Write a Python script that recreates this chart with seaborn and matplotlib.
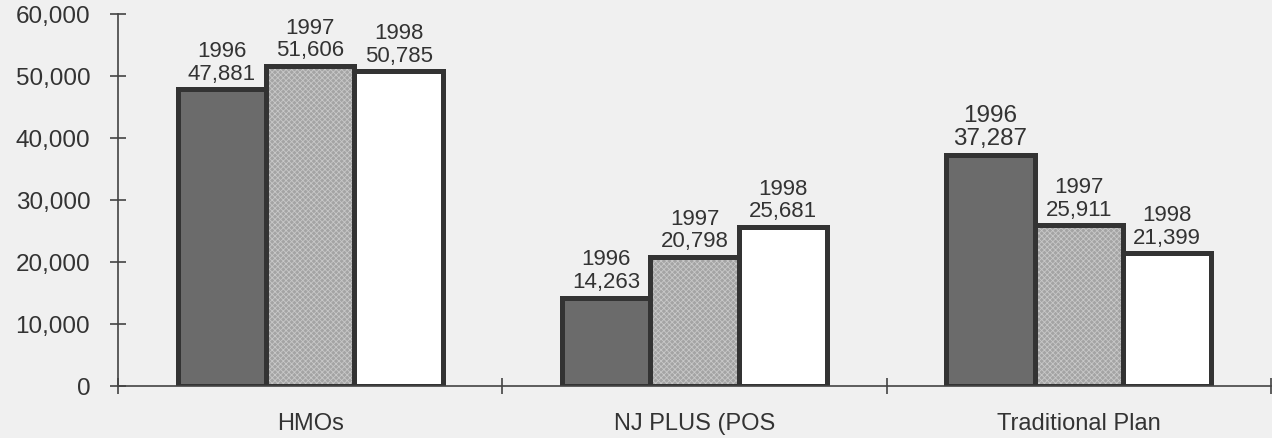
import matplotlib
matplotlib.use("Agg")
import matplotlib.pyplot as plt
import seaborn as sns
import pandas as pd
from matplotlib.patches import Rectangle

# Enrollment by plan type and year
plans = ["HMOs", "NJ PLUS (POS", "Traditional Plan"]
years = ["1996", "1997", "1998"]
enroll_1996 = [47881, 14263, 37287]
enroll_1997 = [51606, 20798, 25911]
enroll_1998 = [50785, 25681, 21399]
y_ticks = [0, 10000, 20000, 30000, 40000, 50000, 60000]

series = [enroll_1996, enroll_1997, enroll_1998]
df = pd.DataFrame({
    "plan": [p for _ in years for p in plans],
    "year": [y for y in years for _ in plans],
    "members": [v for s in series for v in s],
})

sns.set_theme(style="white")
plt.rcParams["font.family"] = ["Liberation Sans", "DejaVu Sans"]
plt.rcParams["hatch.linewidth"] = 0.6

bg = "#f0f0f0"
ink = "#333333"

fig = plt.figure(figsize=(12.72, 4.39), dpi=100, facecolor=bg)
ax = fig.add_axes([118 / 1272, 1 - 387 / 439, (1271 - 118) / 1272, (387 - 15) / 439])
ax.set_facecolor(bg)

palette = {"1996": "#6b6b6b", "1997": "#a4a4a4", "1998": "#ffffff"}
sns.barplot(data=df, x="plan", y="members", hue="year", order=plans,
            hue_order=years, palette=palette, width=0.69, saturation=1,
            edgecolor=ink, linewidth=3.6, errorbar=None, legend=False, ax=ax)

# fine screen texture on the 1997 bars, then redraw their outlines on top
for patch in ax.containers[1]:
    z = patch.get_zorder()
    ax.add_patch(Rectangle(patch.get_xy(), patch.get_width(), patch.get_height(),
                           facecolor="none", edgecolor="#c8c8c8", hatch="xxxxxx",
                           linewidth=0, zorder=z + 0.1))
    ax.add_patch(Rectangle(patch.get_xy(), patch.get_width(), patch.get_height(),
                           facecolor="none", edgecolor=ink, linewidth=3.6,
                           zorder=z + 0.2))

# year + value labels above each bar
for year, cont, vals in zip(years, ax.containers, series):
    labels = [f"{year}\n{v:,}" for v in vals]
    texts = ax.bar_label(cont, labels=labels, padding=4, fontsize=16,
                         color=ink, linespacing=1.1)
    if year == "1996":
        texts[2].set_fontsize(17.5)

ax.set_xlim(-0.5, 2.5)
ax.set_ylim(0, 60000)
ax.set_yticks(y_ticks)
ax.set_yticklabels([f"{t:,}" for t in y_ticks])
ax.set_xlabel("")
ax.set_ylabel("")

ax.set_xticks([0, 1, 2])
ax.set_xticklabels(plans)
ax.set_xticks([-0.5, 0.5, 1.5, 2.5], minor=True)

for s in ["top", "right"]:
    ax.spines[s].set_visible(False)
for s in ["left", "bottom"]:
    ax.spines[s].set_color("#444444")
    ax.spines[s].set_linewidth(1.2)

ax.tick_params(axis="y", which="major", left=True, direction="inout", length=12,
               width=1.2, color="#444444", labelsize=17.5, labelcolor=ink, pad=14)
ax.tick_params(axis="x", which="major", bottom=True, length=0, labelsize=17,
               labelcolor=ink, pad=19)
ax.tick_params(axis="x", which="minor", bottom=True, direction="inout", length=11,
               width=1.2, color="#444444")

fig.savefig("out.png", dpi=100, facecolor=bg)
